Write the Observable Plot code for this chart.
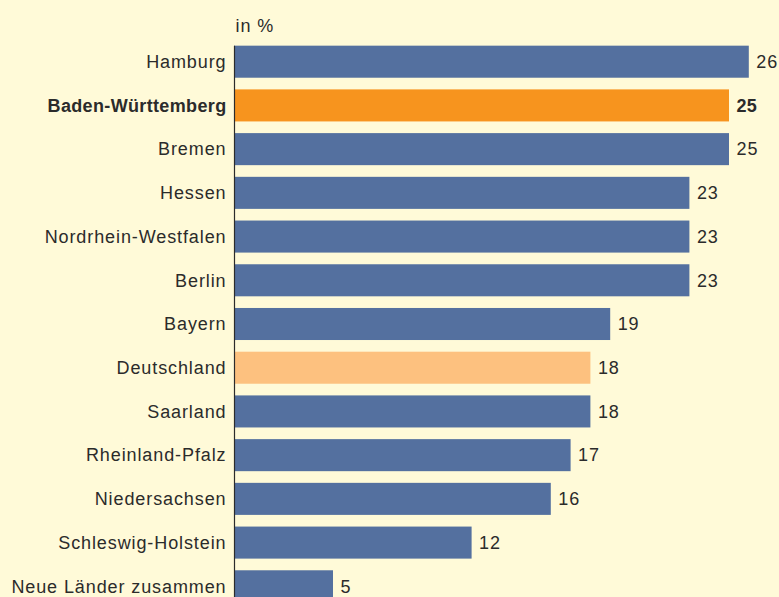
<!DOCTYPE html>
<html>
<head>
<meta charset="utf-8">
<script src="https://cdn.jsdelivr.net/npm/d3@7"></script>
<script src="https://cdn.jsdelivr.net/npm/@observablehq/plot@0.6"></script>
<style>
  html, body { margin: 0; padding: 0; background: #FFFAD8; overflow: hidden; }
  #chart { width: 779px; height: 597px; overflow: hidden; }
  svg { display: block; }
  svg text { letter-spacing: 0.9px; }
  svg g[font-weight="bold"] text { letter-spacing: 0.35px; }
</style>
</head>
<body>
<div id="chart"></div>
<script>
const categories = ["Hamburg", "Baden-Württemberg", "Bremen", "Hessen", "Nordrhein-Westfalen", "Berlin", "Bayern", "Deutschland", "Saarland", "Rheinland-Pfalz", "Niedersachsen", "Schleswig-Holstein", "Neue Länder zusammen"];
const values = [26, 25, 25, 23, 23, 23, 19, 18, 18, 17, 16, 12, 5];
const kinds = ["land", "highlight", "land", "land", "land", "land", "land", "national", "land", "land", "land", "land", "land"];
const unitLabel = "in %";

const data = categories.map((c, i) => ({name: c, value: values[i], kind: kinds[i]}));
const colorOf = {land: "#54709F", highlight: "#F7941E", national: "#FDC17F"};
const font = "'Liberation Sans', Arial, sans-serif";
const textColor = "#2B2B2B";

const chart = Plot.plot({
  width: 779,
  height: 614,
  marginLeft: 234,
  marginRight: 0,
  marginTop: 34,
  marginBottom: 0,
  style: {background: "#FFFAD8", fontFamily: font, fontSize: "18px", color: textColor},
  x: {domain: [0, 26], range: [234, 748.8], axis: null},
  y: {domain: categories, padding: 0.267, round: false, axis: null},
  marks: [
    Plot.barX(data, {x: "value", y: "name", fill: d => colorOf[d.kind]}),
    Plot.ruleX([0], {y1: () => categories[0], y2: () => categories[categories.length - 1], stroke: "#2B2B2B", strokeWidth: 1.2}),
    Plot.text(data.filter(d => d.kind !== "highlight"), {x: 0, y: "name", text: "name", textAnchor: "end", dx: -8, fill: textColor, fontSize: 18}),
    Plot.text(data.filter(d => d.kind === "highlight"), {x: 0, y: "name", text: "name", textAnchor: "end", dx: -8, fill: textColor, fontSize: 18, fontWeight: "bold"}),
    Plot.text(data.filter(d => d.kind !== "highlight"), {x: "value", y: "name", text: d => String(d.value), textAnchor: "start", dx: 7, fill: textColor, fontSize: 18}),
    Plot.text(data.filter(d => d.kind === "highlight"), {x: "value", y: "name", text: d => String(d.value), textAnchor: "start", dx: 7, fill: textColor, fontSize: 18, fontWeight: "bold"}),
    Plot.text([unitLabel], {frameAnchor: "top-left", text: d => d, textAnchor: "start", lineAnchor: "bottom", dx: 1, dy: -2.5, fill: textColor, fontSize: 18})
  ]
});
document.getElementById("chart").appendChild(chart);
</script>
</body>
</html>
